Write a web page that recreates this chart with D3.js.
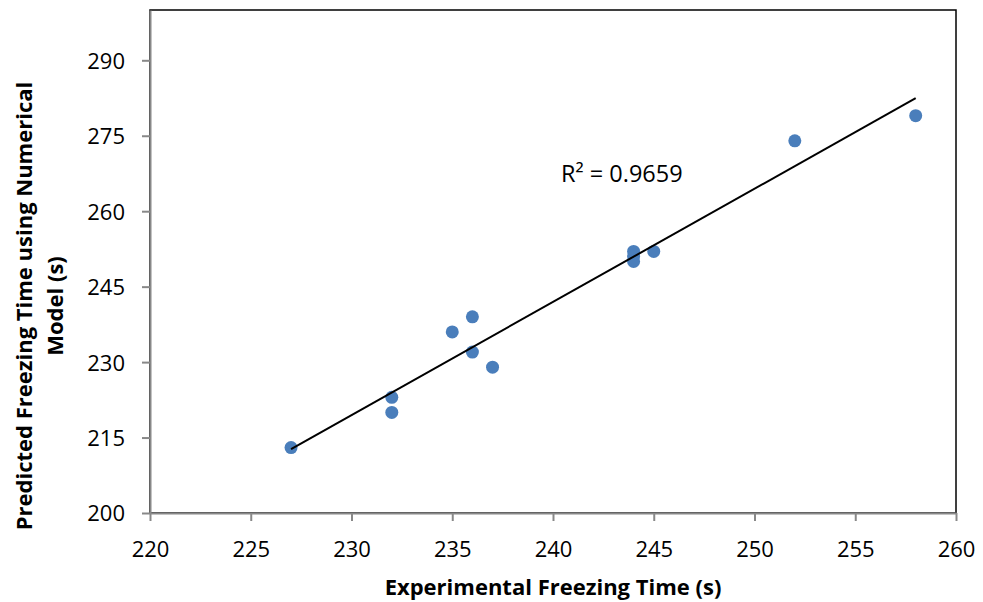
<!DOCTYPE html>
<html><head><meta charset="utf-8">
<script src="https://cdn.jsdelivr.net/npm/d3@7"></script>
<style>body{margin:0;background:#fff}svg{display:block}</style>
</head><body>
<svg id="c" width="983" height="602"></svg>
<script>
const experimental = [227, 232, 232, 235, 236, 236, 237, 244, 244, 244, 245, 252, 258];
const predicted    = [213, 223, 220, 236, 239, 232, 229, 252, 251, 250, 252, 274, 279];
const xTicks = [220, 225, 230, 235, 240, 245, 250, 255, 260];
const yTicks = [200, 215, 230, 245, 260, 275, 290];
const r2Label = "R² = 0.9659";
const xTitle = "Experimental Freezing Time (s)";
const yTitleLines = ["Predicted Freezing Time using Numerical", "Model (s)"];

const svg = d3.select("#c");
const m = {l:150, t:10, r:956, b:513};
const x = d3.scaleLinear().domain([220,260]).range([m.l, m.r]);
const y = d3.scaleLinear().domain([200,300]).range([m.b, m.t]);
const font = "'Open Sans', 'Liberation Sans', sans-serif";

// plot frame
svg.append("rect").attr("x", m.l).attr("y", m.t).attr("width", m.r-m.l).attr("height", m.b-m.t)
  .attr("fill","none").attr("stroke","#000").attr("stroke-width",1.5);

// axes
const xa = svg.append("g").attr("transform",`translate(0,${m.b})`)
  .call(d3.axisBottom(x).tickValues(xTicks).tickSize(8).tickSizeOuter(0).tickPadding(20));
const ya = svg.append("g").attr("transform",`translate(${m.l},0)`)
  .call(d3.axisLeft(y).tickValues(yTicks).tickSize(8).tickSizeOuter(0).tickPadding(17));
[xa, ya].forEach(a => {
  a.select(".domain").attr("stroke","#888").attr("stroke-width",2);
  a.selectAll(".tick line").attr("stroke","#888").attr("stroke-width",2);
  a.selectAll(".tick text").attr("font-family",font).attr("font-size",22).attr("fill","#000");
});
ya.selectAll(".tick text").attr("dy","0.36em");

// regression
const n = experimental.length;
const mx = d3.mean(experimental), my = d3.mean(predicted);
let sxy=0, sxx=0;
for (let i=0;i<n;i++){ sxy += (experimental[i]-mx)*(predicted[i]-my); sxx += (experimental[i]-mx)**2; }
const slope = sxy/sxx, icpt = my - slope*mx;
const x0 = d3.min(experimental), x1 = d3.max(experimental);

// points
svg.append("g").selectAll("circle").data(experimental).join("circle")
  .attr("cx", d => x(d)).attr("cy", (d,i) => y(predicted[i])).attr("r", 6.5)
  .attr("fill", "#4a7ebb");

svg.append("line").attr("x1", x(x0)).attr("y1", y(slope*x0+icpt))
  .attr("x2", x(x1)).attr("y2", y(slope*x1+icpt))
  .attr("stroke","#000").attr("stroke-width",2);

svg.append("text").attr("x", 561).attr("y", 182).attr("font-family",font).attr("font-size",23.5)
  .text(r2Label);

svg.append("text").attr("x", (m.l+m.r)/2).attr("y", 595).attr("text-anchor","middle")
  .attr("font-family",font).attr("font-size",22).attr("font-weight","bold").text(xTitle);

const yt = svg.append("text").attr("transform","translate(0,306) rotate(-90)")
  .attr("text-anchor","middle").attr("font-family",font).attr("font-size",22).attr("font-weight","bold");
yTitleLines.forEach((t,i) => yt.append("tspan").attr("x",0).attr("y", 32 + i*31).text(t));
</script>
</body></html>
